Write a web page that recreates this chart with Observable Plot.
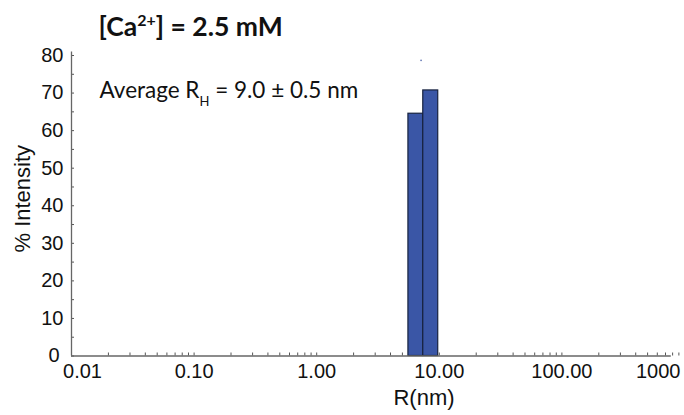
<!DOCTYPE html>
<html>
<head>
<meta charset="utf-8">
<script src="https://cdn.jsdelivr.net/npm/d3@7"></script>
<script src="https://cdn.jsdelivr.net/npm/@observablehq/plot@0.6"></script>
<style>
  html, body { margin: 0; padding: 0; background: #fff; }
  #chart svg { display: block; }
</style>
</head>
<body>
<div id="chart"></div>
<script>
// ---- data ----
const binStart = [5.6, 7.4];        // R(nm), lower bin edge
const binEnd   = [7.4, 9.8];        // R(nm), upper bin edge
const intensity = [64.5, 70.7];     // % Intensity
const strayR = [7.1];               // small stray marker
const strayY = [78.7];
const xTicks = [0.01, 0.1, 1, 10, 100];
const xTickLabels = ["0.01", "0.10", "1.00", "10.00", "100.00"];
const xLastTick = [1000];
const xLastLabel = ["1000"];
const yTicks = [10, 20, 30, 40, 50, 60, 70, 80];
const yMinor = [0, 5, 10, 15, 20, 25, 30, 35, 40, 45, 50, 55, 60, 65, 70, 75, 80];
const titleText = "[Ca2+] = 2.5 mM";
const noteText = "Average RH = 9.0 ± 0.5 nm";
const xLabel = "R(nm)";
const yLabel = "% Intensity";

const bins = binStart.map((s, i) => ({x1: s, x2: binEnd[i], y: intensity[i]}));
const stray = strayR.map((r, i) => ({x: r, y: strayY[i]}));

const axisFont = "Liberation Sans, Arial, sans-serif";
const labelFont = "Lato, Open Sans, sans-serif";

const plot = Plot.plot({
  width: 684,
  height: 415,
  marginLeft: 71,
  marginRight: 0,
  marginTop: 55,
  marginBottom: 59.5,
  style: {fontFamily: axisFont, background: "#fff", color: "#111"},
  x: {type: "log", domain: [0.01, 1000], axis: null},
  y: {domain: [0, 80], axis: null},
  marks: [
    // minor log ticks along x axis
    Plot.axisX({ticks: 40, label: null, text: null, tickSize: 3, dy: -3, stroke: "#555"}),
    // major x labels
    Plot.axisX(xTicks.slice(1), {label: null, tickSize: 0, tickPadding: 8, tickFormat: (d) => xTickLabels[xTicks.indexOf(d)], fontSize: 20, fill: "#111"}),
    Plot.axisX([xTicks[0]], {label: null, tickSize: 0, tickPadding: 8, tickFormat: () => xTickLabels[0], fontSize: 20, dx: 11, fill: "#111"}),
    Plot.axisX(xLastTick, {label: null, tickSize: 0, tickPadding: 8, tickFormat: () => xLastLabel[0], fontSize: 20, textAnchor: "end", dx: -4, fill: "#111"}),
    // y ticks (minor every 5)
    Plot.axisY(yMinor, {label: null, tickSize: 3, dx: 3, text: null, stroke: "#555"}),
    Plot.axisY(yTicks, {label: null, tickSize: 0, tickPadding: 8, fontSize: 20, fill: "#111"}),
    Plot.axisY([0], {label: null, tickSize: 0, tickPadding: 12, fontSize: 20, fill: "#111"}),
    // axis titles
    Plot.text([xLabel], {frameAnchor: "bottom", text: (d) => d, dx: 46, dy: 49, fontSize: 22, fill: "#111"}),
    Plot.text([yLabel], {frameAnchor: "left", text: (d) => d, rotate: -90, textAnchor: "middle", dx: -49, dy: -7, fontSize: 22, fill: "#111"}),
    // bars
    Plot.rectY(bins, {x1: "x1", x2: "x2", y: "y", fill: "#3a56a6", stroke: "#17223f", strokeWidth: 1.2}),
    Plot.dot(stray, {x: "x", y: "y", r: 0.8, fill: "#5a6fb0"}),
    // axis lines
    Plot.ruleY([0], {x1: 0.01, x2: 780, stroke: "#666", strokeWidth: 1.3}),
    Plot.ruleX([0.01], {y1: 0, y2: 80.9, stroke: "#666", strokeWidth: 1.3}),
    // title and note
    Plot.text([titleText], {frameAnchor: "top-left", text: (d) => d, dx: 27, dy: -20, lineAnchor: "bottom", fontFamily: labelFont, fontWeight: "bold", fontSize: 26.5, fill: "#111"}),
    Plot.text([noteText], {frameAnchor: "top-left", text: (d) => d, dx: 28, dy: 42, lineAnchor: "bottom", fontFamily: labelFont, fontSize: 22.5, fill: "#111"})
  ]
});

document.getElementById("chart").appendChild(plot);

// rich text: superscript / subscript
const svg = d3.select(plot);
svg.selectAll("text").each(function() {
  const t = d3.select(this);
  const s = this.textContent;
  if (s === titleText) {
    t.text(null);
    t.append("tspan").attr("fill", "#111").text("[Ca");
    t.append("tspan").attr("fill", "#111").attr("font-size", 16).attr("dy", -10).text("2+");
    t.append("tspan").attr("fill", "#111").attr("dy", 10).text("] = 2.5 mM");
  } else if (s === noteText) {
    t.text(null);
    t.append("tspan").attr("fill", "#111").text("Average R");
    t.append("tspan").attr("fill", "#111").attr("font-size", 13).attr("dy", 8).text("H");
    t.append("tspan").attr("fill", "#111").attr("dy", -8).text(" = 9.0 ± 0.5 nm");
  }
});
</script>
</body>
</html>
